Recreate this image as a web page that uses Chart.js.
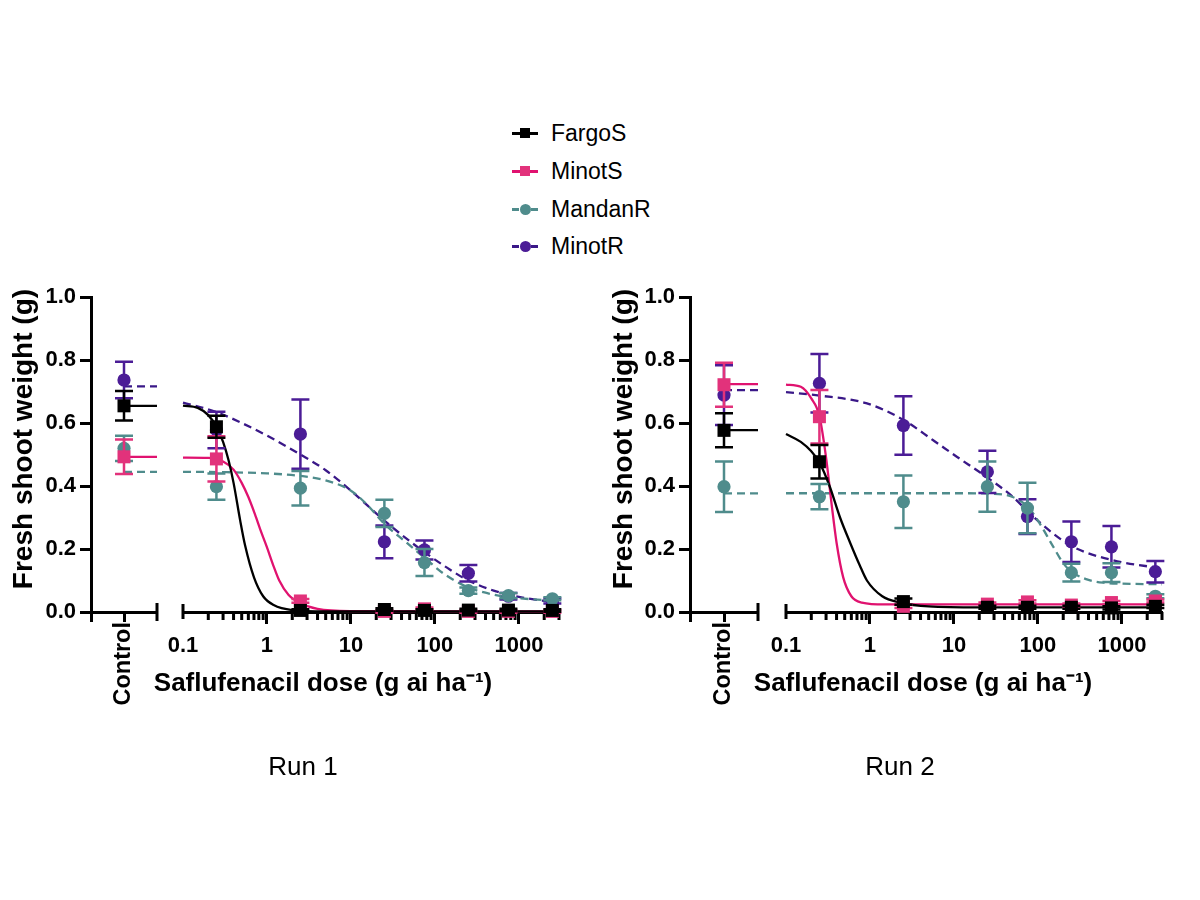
<!DOCTYPE html>
<html>
<head>
<meta charset="utf-8">
<script src="https://cdn.jsdelivr.net/npm/chart.js@4.4.1/dist/chart.umd.min.js"></script>
<style>
  html, body { margin: 0; padding: 0; background: #fff; }
  body { width: 1200px; height: 900px; position: relative; overflow: hidden;
         font-family: 'Liberation Sans', Arial, Helvetica, sans-serif; }
  canvas { position: absolute; }
  .lg-row { position: absolute; left: 505px; width: 200px; height: 30px; }
  .lg-line { position: absolute; top: 13.5px; height: 3px; }
  .lg-sq { position: absolute; top: 10px; width: 10px; height: 10px; }
  .lg-ci { position: absolute; top: 9.5px; width: 11px; height: 11px; border-radius: 50%; }
  .lg-text { position: absolute; left: 46px; top: 0; line-height: 30px; font-size: 23px; color: #000; white-space: nowrap; }
</style>
</head>
<body>
<div id="legend"></div>
<canvas id="ctrl1" width="606" height="520" style="left:0px;top:280px;width:606px;height:520px"></canvas>
<canvas id="log1" width="504" height="432" style="left:71px;top:280px;width:504px;height:432px"></canvas>
<canvas id="ctrl2" width="600" height="520" style="left:600px;top:280px;width:600px;height:520px"></canvas>
<canvas id="log2" width="506" height="432" style="left:670px;top:280px;width:506px;height:432px"></canvas>
<script>
// ---------------- DATA ----------------
const seriesNames = ['FargoS', 'MinotS', 'MandanR', 'MinotR'];
const doses = [0.25, 2.5, 25, 75, 250, 750, 2500];
const controlLabel = 'Control';
const yTicks = [0, 0.2, 0.4, 0.6, 0.8, 1.0];
const majorDoses = [0.1, 1, 10, 100, 1000];
const doseTickLabels = ['0.1', '1', '10', '100', '1000'];
const minorMultipliers = [2, 3, 4, 5, 6, 7, 8, 9];
const doseMin = 0.1, doseMax = 3000;
const yTitle = 'Fresh shoot weight (g)';
const xTitle = 'Saflufenacil dose (g ai ha\u207B\u00B9)';
const runTitles = ['Run 1', 'Run 2'];

// Run 1 — means and errors at each dose
const run1FargoS = [0.588, 0.005, 0.008, 0.005, 0.006, 0.006, 0.005];
const run1FargoSErr = [0.035, 0.004, 0.004, 0.004, 0.004, 0.004, 0.004];
const run1MinotS = [0.486, 0.035, 0.002, 0.010, 0.002, 0.002, 0.002];
const run1MinotSErr = [0.072, 0.006, 0.004, 0.004, 0.004, 0.004, 0.004];
const run1MandanR = [0.398, 0.393, 0.313, 0.157, 0.068, 0.052, 0.042];
const run1MandanRErr = [0.042, 0.055, 0.043, 0.043, 0.010, 0.008, 0.005];
const run1MinotR = [0.578, 0.565, 0.223, 0.197, 0.123, 0.050, 0.035];
const run1MinotRErr = [0.058, 0.110, 0.052, 0.030, 0.026, 0.010, 0.008];
// Run 1 — control (FargoS, MinotS, MandanR, MinotR)
const run1Control = [0.655, 0.493, 0.520, 0.737];
const run1ControlErr = [0.047, 0.055, 0.040, 0.058];
const run1ControlFit = [0.655, 0.493, 0.445, 0.717];
// Run 1 — fitted curves [dose, weight]
const run1FargoSFit = [[0.1,0.655],[0.15,0.648],[0.2,0.625],[0.25,0.588],[0.3,0.54],[0.35,0.48],[0.4,0.41],[0.48,0.29],[0.55,0.21],[0.7,0.11],[0.9,0.05],[1.2,0.022],[2,0.006],[5,0.002],[3000,0.002]];
const run1MinotSFit = [[0.1,0.49],[0.2,0.489],[0.3,0.478],[0.4,0.452],[0.5,0.41],[0.6,0.365],[0.72,0.31],[0.85,0.255],[1.0,0.205],[1.2,0.145],[1.4,0.10],[1.8,0.055],[2.5,0.028],[4,0.01],[10,0.003],[3000,0.002]];
const run1MandanRFit = [[0.1,0.445],[0.3,0.444],[1,0.44],[2.5,0.432],[5,0.418],[10,0.385],[15,0.345],[25,0.28],[46,0.22],[75,0.172],[130,0.12],[250,0.078],[500,0.055],[750,0.047],[1500,0.04],[3000,0.035]];
const run1MinotRFit = [[0.1,0.665],[0.25,0.635],[0.5,0.6],[1,0.56],[2.5,0.5],[5,0.45],[10,0.385],[25,0.29],[50,0.225],[75,0.19],[150,0.135],[250,0.1],[500,0.068],[750,0.055],[1500,0.04],[3000,0.03]];

// Run 2 — means and errors at each dose
const run2FargoS = [0.477, 0.033, 0.015, 0.015, 0.015, 0.013, 0.018];
const run2FargoSErr = [0.053, 0.010, 0.005, 0.005, 0.005, 0.005, 0.005];
const run2MinotS = [0.620, 0.018, 0.025, 0.032, 0.022, 0.030, 0.035];
const run2MinotSErr = [0.085, 0.005, 0.005, 0.005, 0.005, 0.005, 0.005];
const run2MandanR = [0.366, 0.350, 0.398, 0.330, 0.125, 0.125, 0.050];
const run2MandanRErr = [0.040, 0.083, 0.080, 0.080, 0.028, 0.030, 0.006];
const run2MinotR = [0.726, 0.592, 0.445, 0.303, 0.223, 0.207, 0.128];
const run2MinotRErr = [0.093, 0.093, 0.067, 0.055, 0.064, 0.066, 0.034];
// Run 2 — control
const run2Control = [0.577, 0.722, 0.398, 0.689];
const run2ControlErr = [0.054, 0.070, 0.080, 0.095];
const run2ControlFit = [0.578, 0.724, 0.377, 0.705];
// Run 2 — fitted curves
const run2FargoSFit = [[0.1,0.565],[0.15,0.54],[0.2,0.51],[0.25,0.475],[0.33,0.40],[0.44,0.30],[0.58,0.22],[0.75,0.15],[0.92,0.10],[1.4,0.05],[2.3,0.03],[5,0.018],[20,0.015],[3000,0.015]];
const run2MinotSFit = [[0.1,0.722],[0.15,0.715],[0.2,0.678],[0.25,0.622],[0.3,0.49],[0.35,0.34],[0.4,0.22],[0.48,0.11],[0.6,0.05],[0.8,0.03],[1.5,0.024],[3000,0.024]];
const run2MandanRFit = [[0.1,0.377],[10,0.377],[30,0.375],[50,0.365],[75,0.335],[100,0.29],[150,0.21],[200,0.155],[260,0.125],[400,0.102],[600,0.093],[1000,0.09],[3000,0.088]];
const run2MinotRFit = [[0.1,0.698],[0.25,0.687],[0.9,0.663],[2.5,0.61],[5.6,0.546],[10.8,0.493],[24,0.43],[50,0.366],[80,0.313],[150,0.25],[260,0.207],[760,0.165],[3000,0.138]];

// ---------------- STYLE ----------------
const FONT = "'Liberation Sans', Arial, Helvetica, sans-serif";
const markerColors = ['#000000', '#E2327B', '#4F8C8C', '#4B1C96'];
const curveColors = ['#000000', '#E0126F', '#4F8C8C', '#3A1888'];
const markerStyles = ['rect', 'rect', 'circle', 'circle'];
const dashed = [false, false, true, true];

const runs = [
  { means: [run1FargoS, run1MinotS, run1MandanR, run1MinotR],
    errs: [run1FargoSErr, run1MinotSErr, run1MandanRErr, run1MinotRErr],
    fits: [run1FargoSFit, run1MinotSFit, run1MandanRFit, run1MinotRFit],
    control: run1Control, controlErr: run1ControlErr, controlFit: run1ControlFit },
  { means: [run2FargoS, run2MinotS, run2MandanR, run2MinotR],
    errs: [run2FargoSErr, run2MinotSErr, run2MandanRErr, run2MinotRErr],
    fits: [run2FargoSFit, run2MinotSFit, run2MandanRFit, run2MinotRFit],
    control: run2Control, controlErr: run2ControlErr, controlFit: run2ControlFit }
];

// geometry of each panel (pixel layout only)
const geom = [
  { ctrl: 'ctrl1', log: 'log1', yAxisW: 91, ctrlRightW: 449, logLeftW: 112, logRightW: 16 },
  { ctrl: 'ctrl2', log: 'log2', yAxisW: 90, ctrlRightW: 442, logLeftW: 116, logRightW: 14 }
];

// ---------------- PLUGINS ----------------
const errorBars = {
  id: 'errorBars',
  beforeDatasetDraw(chart, args) {
    const ds = chart.data.datasets[args.index];
    if (!ds.errors) return;
    const meta = args.meta;
    const yS = chart.scales[meta.yAxisID];
    const ctx = chart.ctx;
    ctx.save();
    ctx.strokeStyle = ds.errColor;
    ctx.lineWidth = 2.5;
    ctx.lineCap = 'butt';
    meta.data.forEach((pt, i) => {
      const v = ds.data[i].y, e = ds.errors[i];
      const x = pt.x;
      const yT = yS.getPixelForValue(v + e), yB = yS.getPixelForValue(v - e);
      ctx.beginPath();
      ctx.moveTo(x, yT); ctx.lineTo(x, yB);
      ctx.moveTo(x - 9, yT); ctx.lineTo(x + 9, yT);
      ctx.moveTo(x - 9, yB); ctx.lineTo(x + 9, yB);
      ctx.stroke();
    });
    ctx.restore();
  }
};

const axisDecor = {
  id: 'axisDecor',
  beforeDatasetsDraw(chart, args, opts) {
    const xs = chart.scales.x;
    const ctx = chart.ctx;
    const b = xs.top;
    ctx.save();
    ctx.strokeStyle = '#000';
    ctx.lineWidth = 3;
    ctx.beginPath();
    if (opts.kind === 'log') {
      const p0 = xs.getPixelForValue(xs.min);
      ctx.moveTo(p0, b - 8); ctx.lineTo(p0, b + 7);
      xs.ticks.forEach(t => {
        if (!t.major) {
          const p = xs.getPixelForValue(t.value);
          ctx.moveTo(p, b); ctx.lineTo(p, b + 8);
        }
      });
    } else {
      const p1 = xs.getPixelForValue(xs.max);
      ctx.moveTo(p1, b - 9); ctx.lineTo(p1, b + 9);
    }
    ctx.stroke();
    ctx.restore();
  }
};

const tickFont = { family: FONT, size: 22, weight: 'bold' };
const hidden = 'rgba(0,0,0,0)';

function pointDataset(k, xs, ys, errs) {
  return {
    label: seriesNames[k],
    data: xs.map((x, i) => ({ x: x, y: ys[i] })),
    errors: errs,
    errColor: markerColors[k],
    showLine: false,
    pointStyle: markerStyles[k],
    pointRadius: markerStyles[k] === 'rect' ? 9.2 : 6.6,
    pointBackgroundColor: markerColors[k],
    pointBorderColor: markerColors[k],
    pointBorderWidth: 0,
    order: k,
    clip: false
  };
}
function lineDataset(k, pts) {
  return {
    label: seriesNames[k] + ' fit',
    data: pts.map(p => ({ x: p[0], y: p[1] })),
    borderColor: curveColors[k],
    borderWidth: 2.3,
    borderDash: dashed[k] ? [8, 5] : [],
    pointRadius: 0,
    cubicInterpolationMode: 'monotone',
    fill: false,
    order: 10 + k,
    clip: false
  };
}

// ---------------- BUILD ----------------
runs.forEach((run, r) => {
  const g = geom[r];

  // Control segment chart (carries the y axis and the run title)
  const cds = [];
  seriesNames.forEach((n, k) => cds.push(pointDataset(k, [0.5], [run.control[k]], [run.controlErr[k]])));
  seriesNames.forEach((n, k) => cds.push(lineDataset(k, [[0.5, run.controlFit[k]], [1, run.controlFit[k]]])));

  new Chart(document.getElementById(g.ctrl), {
    type: 'line',
    data: { datasets: cds },
    plugins: [errorBars, axisDecor],
    options: {
      responsive: false, animation: false, events: [],
      layout: { padding: { top: 17, left: 0, right: 0, bottom: 0 } },
      plugins: {
        legend: { display: false }, tooltip: { enabled: false },
        axisDecor: { kind: 'ctrl' },
        title: { display: true, position: 'bottom', text: runTitles[r], color: '#000',
                 font: { family: FONT, size: 26, weight: 'normal' }, padding: { top: 0, bottom: 16.4 } }
      },
      scales: {
        x: {
          type: 'linear', min: 0, max: 1, position: 'bottom',
          afterBuildTicks: s => { s.ticks = [{ value: 0 }, { value: 0.5 }, { value: 1 }]; },
          afterFit: s => { s.height = 140.4; },
          border: { display: true, width: 3, color: '#000' },
          grid: { display: true, drawOnChartArea: false, tickLength: 10, tickWidth: 3,
                  tickColor: c => (c.tick && c.tick.value === 1) ? hidden : '#000' },
          ticks: { autoSkip: false, minRotation: 90, maxRotation: 90, padding: 0, color: '#000',
                   font: { family: FONT, size: 23.5, weight: 'bold' },
                   callback: v => (v === 0.5 ? controlLabel : '') }
        },
        y: {
          min: 0, max: 1, position: 'left',
          afterBuildTicks: s => { s.ticks = yTicks.map(v => ({ value: v })); },
          afterFit: s => { s.width = g.yAxisW; },
          border: { display: true, width: 3, color: '#000' },
          grid: { display: true, drawOnChartArea: false, tickLength: 11, tickWidth: 3, tickColor: '#000' },
          ticks: { padding: 4, color: '#000', font: tickFont, callback: v => v.toFixed(1) },
          title: { display: true, text: '\u00A0\u00A0\u00A0\u00A0' + yTitle, color: '#000',
                   font: { family: FONT, size: 28, weight: 'bold' }, padding: { top: 7, bottom: 0 } }
        },
        yr: {
          min: 0, max: 1, position: 'right',
          afterFit: s => { s.width = g.ctrlRightW; },
          ticks: { display: false }, grid: { display: false }, border: { display: false }
        }
      }
    }
  });

  // Dose (log) segment chart
  const lds = [];
  seriesNames.forEach((n, k) => lds.push(pointDataset(k, doses, run.means[k], run.errs[k])));
  seriesNames.forEach((n, k) => lds.push(lineDataset(k, run.fits[k])));

  const tickVals = [];
  majorDoses.forEach(d => {
    tickVals.push({ value: d, major: true });
    minorMultipliers.forEach(m => { if (m * d <= doseMax + 1e-9) tickVals.push({ value: m * d, major: false }); });
  });

  new Chart(document.getElementById(g.log), {
    type: 'line',
    data: { datasets: lds },
    plugins: [errorBars, axisDecor],
    options: {
      responsive: false, animation: false, events: [],
      layout: { padding: { top: 17, left: 0, right: 0, bottom: 0 } },
      plugins: {
        legend: { display: false }, tooltip: { enabled: false },
        axisDecor: { kind: 'log' },
        title: { display: true, position: 'bottom', text: xTitle, color: '#000',
                 font: { family: FONT, size: 26, weight: 'bold' }, padding: { top: 0, bottom: 12.4 } }
      },
      scales: {
        x: {
          type: 'logarithmic', min: doseMin, max: doseMax, position: 'bottom',
          afterBuildTicks: s => { s.ticks = tickVals.map(t => ({ value: t.value, major: t.major })); },
          afterFit: s => { s.height = 56.4; },
          border: { display: true, width: 3, color: '#000' },
          grid: { display: true, drawOnChartArea: false, tickLength: 12, tickWidth: 3,
                  tickColor: c => (c.tick && c.tick.major && c.tick.value !== doseMin) ? '#000' : hidden },
          ticks: { autoSkip: false, minRotation: 0, maxRotation: 0, padding: 9, color: '#000', font: tickFont,
                   callback: v => { const i = majorDoses.indexOf(v); return i >= 0 ? doseTickLabels[i] : ''; } }
        },
        y: {
          min: 0, max: 1, position: 'left',
          afterFit: s => { s.width = g.logLeftW; },
          ticks: { display: false }, grid: { display: false }, border: { display: false }
        },
        yr: {
          min: 0, max: 1, position: 'right',
          afterFit: s => { s.width = g.logRightW; },
          ticks: { display: false }, grid: { display: false }, border: { display: false }
        }
      }
    }
  });
});

// ---------------- LEGEND ----------------
const legendRowsY = [118, 156, 194, 231];
const legendEl = document.getElementById('legend');
seriesNames.forEach((n, k) => {
  const row = document.createElement('div');
  row.className = 'lg-row';
  row.style.top = legendRowsY[k] + 'px';
  if (dashed[k]) {
    row.innerHTML += `<div class="lg-line" style="left:7px;width:7px;background:${curveColors[k]}"></div>`;
    row.innerHTML += `<div class="lg-line" style="left:26px;width:7px;background:${curveColors[k]}"></div>`;
  } else {
    row.innerHTML += `<div class="lg-line" style="left:7px;width:26px;background:${curveColors[k]}"></div>`;
  }
  if (markerStyles[k] === 'rect') {
    row.innerHTML += `<div class="lg-sq" style="left:15px;background:${markerColors[k]}"></div>`;
  } else {
    row.innerHTML += `<div class="lg-ci" style="left:14.5px;background:${markerColors[k]}"></div>`;
  }
  const t = document.createElement('span');
  t.className = 'lg-text';
  t.textContent = n;
  row.appendChild(t);
  legendEl.appendChild(row);
});
</script>
</body>
</html>
